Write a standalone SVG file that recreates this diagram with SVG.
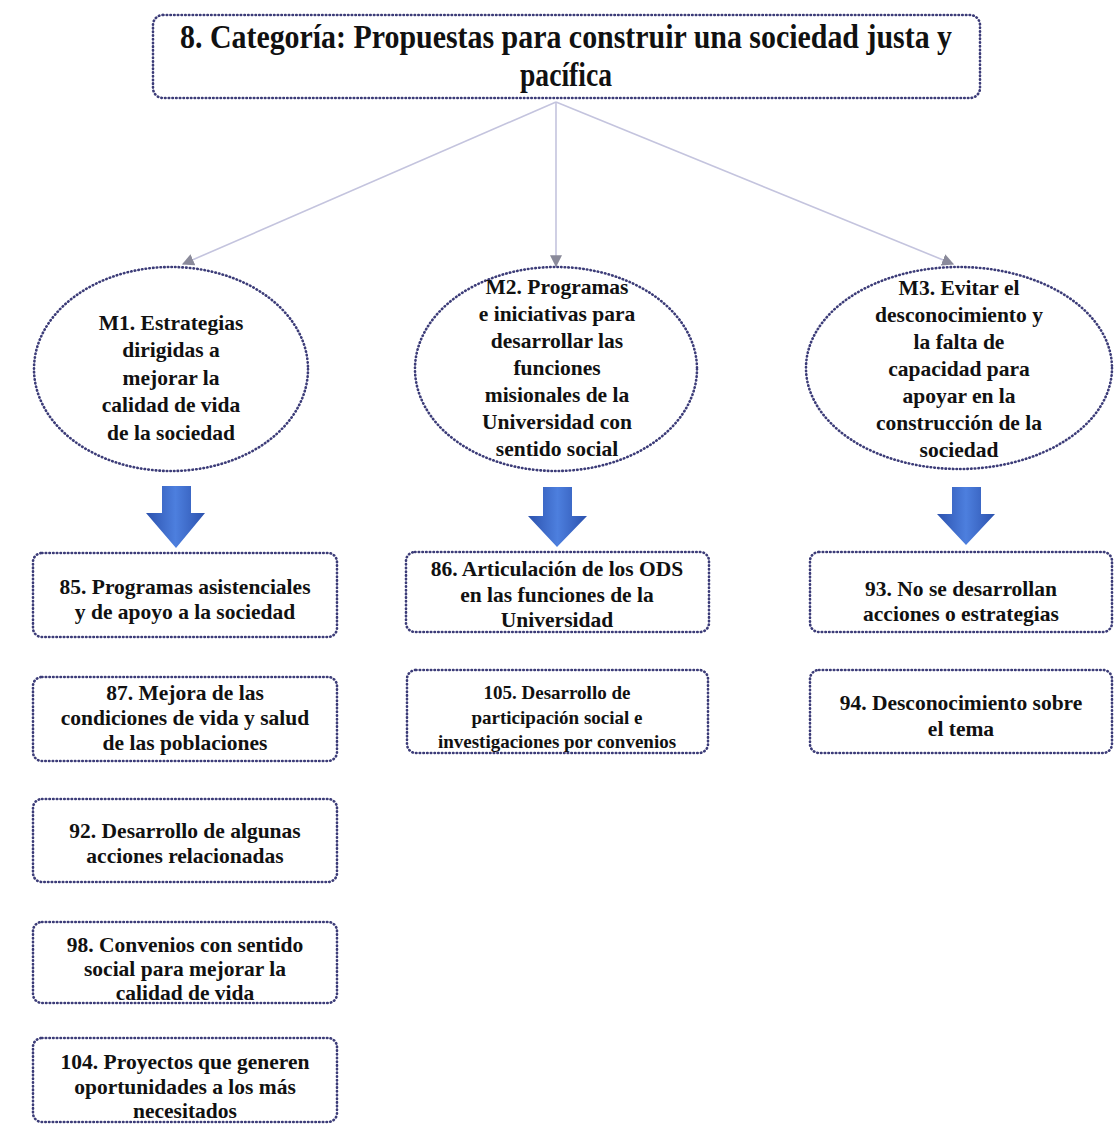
<svg xmlns="http://www.w3.org/2000/svg" width="1115" height="1125" viewBox="0 0 1115 1125">
<defs>
<style>
.dot{fill:#ffffff;stroke:#3c3c78;stroke-width:2.6;stroke-dasharray:0.5 3.2;stroke-linecap:round}
.t{font-family:"Liberation Serif","Times New Roman",serif;font-weight:bold;fill:#111111;text-anchor:middle}
.e{font-size:21.5px}
.b{font-size:21.5px}
.s{font-size:19px}
.ttl{font-size:33px}
.conn{stroke:#c4c4de;stroke-width:1.6;fill:none}
.blue{fill:url(#bg)}
</style>
<marker id="ah" viewBox="0 0 10 10" refX="9" refY="5" markerWidth="12" markerHeight="12" markerUnits="userSpaceOnUse" orient="auto">
<path d="M0,0 L10,5 L0,10 Z" fill="#8a8a9a"/>
</marker>
<linearGradient id="bg" x1="0" y1="0" x2="1" y2="0">
<stop offset="0" stop-color="#2c52ae"/>
<stop offset="0.5" stop-color="#4d7fde"/>
<stop offset="1" stop-color="#2c52ae"/>
</linearGradient>
</defs>
<rect width="1115" height="1125" fill="#ffffff"/>

<g id="connectors">
<line class="conn" x1="556" y1="102" x2="183" y2="264" marker-end="url(#ah)"/>
<line class="conn" x1="556" y1="102" x2="556" y2="266" marker-end="url(#ah)"/>
<line class="conn" x1="556" y1="102" x2="953" y2="264" marker-end="url(#ah)"/>
<path class="blue" d="M162,486 H191 V513 H205 L176,548 L146,513 H162 Z"/>
<path class="blue" d="M543,487 H572 V516 H587 L557,547 L528,516 H543 Z"/>
<path class="blue" d="M952,487 H981 V514 H995 L966,545 L937,514 H952 Z"/>
</g>

<g id="title">
<rect class="dot" x="153" y="15" width="827" height="83" rx="10"/>
<text class="t ttl" x="566" y="48" textLength="772" lengthAdjust="spacingAndGlyphs">8. Categoría: Propuestas para construir una sociedad justa y</text>
<text class="t ttl" x="566" y="86" textLength="92" lengthAdjust="spacingAndGlyphs">pacífica</text>
</g>

<g id="m1">
<ellipse class="dot" cx="171" cy="369" rx="137" ry="102"/>
<text class="t e" x="171" y="330">M1. Estrategias</text>
<text class="t e" x="171" y="357">dirigidas a</text>
<text class="t e" x="171" y="385">mejorar la</text>
<text class="t e" x="171" y="412">calidad de vida</text>
<text class="t e" x="171" y="440">de la sociedad</text>
</g>

<g id="m2">
<ellipse class="dot" cx="556" cy="369" rx="141" ry="102"/>
<text class="t e" x="557" y="294">M2. Programas</text>
<text class="t e" x="557" y="321">e iniciativas para</text>
<text class="t e" x="557" y="348">desarrollar las</text>
<text class="t e" x="557" y="375">funciones</text>
<text class="t e" x="557" y="402">misionales de la</text>
<text class="t e" x="557" y="429">Universidad con</text>
<text class="t e" x="557" y="456">sentido social</text>
</g>

<g id="m3">
<ellipse class="dot" cx="959" cy="368" rx="153" ry="101"/>
<text class="t e" x="959" y="295">M3. Evitar el</text>
<text class="t e" x="959" y="322">desconocimiento y</text>
<text class="t e" x="959" y="349">la falta de</text>
<text class="t e" x="959" y="376">capacidad para</text>
<text class="t e" x="959" y="403">apoyar en la</text>
<text class="t e" x="959" y="430">construcción de la</text>
<text class="t e" x="959" y="457">sociedad</text>
</g>

<g id="n85">
<rect class="dot" x="33" y="553" width="304" height="84" rx="9"/>
<text class="t b" x="185" y="594">85. Programas asistenciales</text>
<text class="t b" x="185" y="619">y de apoyo a la sociedad</text>
</g>

<g id="n87">
<rect class="dot" x="33" y="677" width="304" height="84" rx="9"/>
<text class="t b" x="185" y="700">87. Mejora de las</text>
<text class="t b" x="185" y="725">condiciones de vida y salud</text>
<text class="t b" x="185" y="750">de las poblaciones</text>
</g>

<g id="n92">
<rect class="dot" x="33" y="799" width="304" height="83" rx="9"/>
<text class="t b" x="185" y="838">92. Desarrollo de algunas</text>
<text class="t b" x="185" y="863">acciones relacionadas</text>
</g>

<g id="n98">
<rect class="dot" x="33" y="922" width="304" height="81" rx="9"/>
<text class="t b" x="185" y="952">98. Convenios con sentido</text>
<text class="t b" x="185" y="976">social para mejorar la</text>
<text class="t b" x="185" y="1000">calidad de vida</text>
</g>

<g id="n104">
<rect class="dot" x="33" y="1038" width="304" height="84" rx="9"/>
<text class="t b" x="185" y="1069">104. Proyectos que generen</text>
<text class="t b" x="185" y="1094">oportunidades a los más</text>
<text class="t b" x="185" y="1118">necesitados</text>
</g>

<g id="n86">
<rect class="dot" x="406" y="552" width="303" height="80" rx="9"/>
<text class="t b" x="557" y="576">86. Articulación de los ODS</text>
<text class="t b" x="557" y="602">en las funciones de la</text>
<text class="t b" x="557" y="627">Universidad</text>
</g>

<g id="n105">
<rect class="dot" x="407" y="670" width="301" height="83" rx="9"/>
<text class="t s" x="557" y="699">105. Desarrollo de</text>
<text class="t s" x="557" y="724">participación social e</text>
<text class="t s" x="557" y="748">investigaciones por convenios</text>
</g>

<g id="n93">
<rect class="dot" x="810" y="552" width="302" height="80" rx="9"/>
<text class="t b" x="961" y="596">93. No se desarrollan</text>
<text class="t b" x="961" y="621">acciones o estrategias</text>
</g>

<g id="n94">
<rect class="dot" x="810" y="670" width="302" height="83" rx="9"/>
<text class="t b" x="961" y="710">94. Desconocimiento sobre</text>
<text class="t b" x="961" y="736">el tema</text>
</g>
</svg>
